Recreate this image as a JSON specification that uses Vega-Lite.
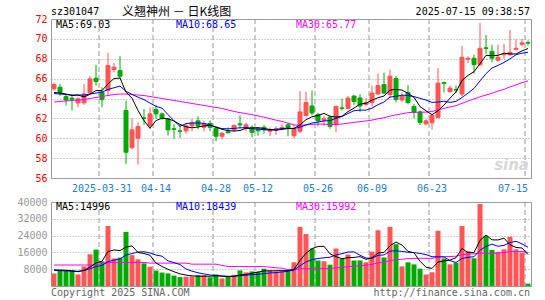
{
  "$schema": "https://vega.github.io/schema/vega-lite/v6.json",
  "background": "white",
  "padding": {"left": 16, "top": 5, "right": 15, "bottom": 2},
  "bounds": "flush",
  "spacing": 24,
  "config": {
    "font": "DejaVu Sans Mono",
    "view": {"stroke": "#999999", "strokeWidth": 1},
    "axis": {"labelFont": "DejaVu Sans Mono", "labelFontSize": 10, "ticks": false, "tickSize": 0, "domain": false, "gridColor": "#a0a0a0", "gridWidth": 1, "gridOpacity": 1, "labelOverlap": false, "labelBound": false}
  },
  "datasets": {
    "marks": [{"g":"2025-03-31"},{"g":"2025-04-14"},{"g":"2025-04-28"},{"g":"2025-05-12"},{"g":"2025-05-26"},{"g":"2025-06-09"},{"g":"2025-06-23"},{"g":"2025-07-15"}],
    "k": [
      {"d":"2025-03-19","o":64.97,"h":65.6,"l":64.8,"c":65.4,"v":6000,"m5":64.6,"m10":64.5,"m30":63.65,"vm5":7700,"vm10":7400,"vm30":10000},
      {"d":"2025-03-20","o":65.13,"h":65.45,"l":64.26,"c":64.6,"v":7500,"m5":64.55,"m10":64.45,"m30":63.7,"vm5":7600,"vm10":7300,"vm30":10000},
      {"d":"2025-03-21","o":64.19,"h":64.46,"l":63.29,"c":63.85,"v":7500,"m5":64.45,"m10":64.4,"m30":63.75,"vm5":7500,"vm10":7200,"vm30":10000},
      {"d":"2025-03-24","o":64.03,"h":64.23,"l":62.79,"c":63.93,"v":7500,"m5":64.3,"m10":64.35,"m30":63.8,"vm5":7200,"vm10":7100,"vm30":10000},
      {"d":"2025-03-25","o":63.56,"h":64.13,"l":63.12,"c":63.96,"v":5500,"m5":64.35,"m10":64.35,"m30":63.85,"vm5":6800,"vm10":7000,"vm30":10000},
      {"d":"2025-03-26","o":63.56,"h":65.47,"l":63.36,"c":64.46,"v":9350,"m5":64.16,"m10":64.35,"m30":63.9,"vm5":7470,"vm10":7400,"vm30":10000},
      {"d":"2025-03-27","o":64.56,"h":66.24,"l":64.5,"c":65.97,"v":15100,"m5":64.43,"m10":64.45,"m30":64.0,"vm5":8990,"vm10":8200,"vm30":10000},
      {"d":"2025-03-28","o":66.04,"h":67.38,"l":65.3,"c":65.7,"v":17350,"m5":64.8,"m10":64.55,"m30":64.1,"vm5":10960,"vm10":9300,"vm30":10000},
      {"d":"2025-03-31","o":64.63,"h":65.13,"l":63.12,"c":63.89,"v":11700,"m5":64.8,"m10":64.65,"m30":64.2,"vm5":11800,"vm10":9800,"vm30":10800},
      {"d":"2025-04-01","o":64.8,"h":68.59,"l":64.3,"c":67.32,"v":28550,"m5":65.47,"m10":64.91,"m30":64.3,"vm5":16410,"vm10":11605,"vm30":11100},
      {"d":"2025-04-02","o":66.91,"h":67.55,"l":66.64,"c":67.15,"v":13100,"m5":66.01,"m10":65.08,"m30":64.4,"vm5":17160,"vm10":12315,"vm30":11200},
      {"d":"2025-04-03","o":66.81,"h":68.26,"l":65.97,"c":66.24,"v":13500,"m5":66.06,"m10":65.25,"m30":64.45,"vm5":16840,"vm10":12915,"vm30":11200},
      {"d":"2025-04-07","o":62.79,"h":63.79,"l":57.42,"c":58.59,"v":25750,"m5":64.64,"m10":64.72,"m30":64.45,"vm5":18520,"vm10":14740,"vm30":11200},
      {"d":"2025-04-08","o":59.05,"h":62.0,"l":58.9,"c":60.85,"v":14700,"m5":64.03,"m10":64.41,"m30":64.4,"vm5":19120,"vm10":15460,"vm30":11200},
      {"d":"2025-04-09","o":60.0,"h":61.61,"l":57.35,"c":61.17,"v":12700,"m5":62.8,"m10":64.13,"m30":64.35,"vm5":15950,"vm10":16180,"vm30":11200},
      {"d":"2025-04-10","o":62.05,"h":62.95,"l":61.34,"c":62.0,"v":10800,"m5":61.77,"m10":63.89,"m30":64.3,"vm5":15490,"vm10":16325,"vm30":11200},
      {"d":"2025-04-11","o":61.28,"h":63.12,"l":60.94,"c":62.45,"v":9200,"m5":61.01,"m10":63.54,"m30":64.2,"vm5":14630,"vm10":15735,"vm30":10900},
      {"d":"2025-04-14","o":62.89,"h":63.36,"l":61.95,"c":62.45,"v":7350,"m5":61.78,"m10":63.21,"m30":64.1,"vm5":10950,"vm10":14735,"vm30":10900},
      {"d":"2025-04-15","o":62.45,"h":62.6,"l":61.85,"c":62.05,"v":6400,"m5":62.02,"m10":63.03,"m30":64.0,"vm5":9290,"vm10":14205,"vm30":10900},
      {"d":"2025-04-16","o":61.95,"h":62.0,"l":60.27,"c":60.84,"v":6000,"m5":61.96,"m10":62.38,"m30":63.9,"vm5":7950,"vm10":11950,"vm30":10900},
      {"d":"2025-04-17","o":60.95,"h":61.45,"l":59.95,"c":60.9,"v":4950,"m5":61.74,"m10":61.75,"m30":63.8,"vm5":6780,"vm10":11135,"vm30":10900},
      {"d":"2025-04-18","o":60.75,"h":61.35,"l":60.05,"c":60.7,"v":4250,"m5":61.39,"m10":61.2,"m30":63.7,"vm5":5790,"vm10":10210,"vm30":10900},
      {"d":"2025-04-21","o":60.75,"h":61.55,"l":60.45,"c":61.25,"v":4400,"m5":61.15,"m10":61.47,"m30":63.6,"vm5":5200,"vm10":8075,"vm30":10900},
      {"d":"2025-04-22","o":61.25,"h":61.95,"l":60.7,"c":61.55,"v":4550,"m5":61.05,"m10":61.54,"m30":63.5,"vm5":4830,"vm10":7060,"vm30":10400},
      {"d":"2025-04-23","o":61.75,"h":62.2,"l":60.9,"c":61.25,"v":5100,"m5":61.13,"m10":61.54,"m30":63.4,"vm5":4650,"vm10":6300,"vm30":10400},
      {"d":"2025-04-24","o":61.1,"h":61.78,"l":60.7,"c":61.45,"v":5100,"m5":61.24,"m10":61.49,"m30":63.3,"vm5":4680,"vm10":5730,"vm30":10400},
      {"d":"2025-04-25","o":61.5,"h":61.78,"l":60.7,"c":61.1,"v":4150,"m5":61.32,"m10":61.35,"m30":63.2,"vm5":4660,"vm10":5225,"vm30":10400},
      {"d":"2025-04-28","o":61.0,"h":61.2,"l":59.7,"c":60.2,"v":5500,"m5":61.11,"m10":61.13,"m30":63.1,"vm5":4880,"vm10":5040,"vm30":10400},
      {"d":"2025-04-29","o":60.2,"h":60.65,"l":59.9,"c":60.5,"v":3600,"m5":60.9,"m10":60.97,"m30":63.0,"vm5":4690,"vm10":4760,"vm30":9800},
      {"d":"2025-04-30","o":60.65,"h":61.1,"l":60.5,"c":60.55,"v":4300,"m5":60.76,"m10":60.95,"m30":62.85,"vm5":4530,"vm10":4590,"vm30":9300},
      {"d":"2025-05-06","o":60.85,"h":61.35,"l":60.65,"c":61.3,"v":5350,"m5":60.73,"m10":60.99,"m30":62.7,"vm5":4580,"vm10":4630,"vm30":9280},
      {"d":"2025-05-07","o":61.45,"h":62.3,"l":61.0,"c":61.35,"v":7450,"m5":60.78,"m10":61.05,"m30":62.58,"vm5":5240,"vm10":4950,"vm30":9278},
      {"d":"2025-05-08","o":61.0,"h":61.55,"l":60.75,"c":61.35,"v":6500,"m5":61.01,"m10":61.06,"m30":62.48,"vm5":5440,"vm10":5160,"vm30":9245},
      {"d":"2025-05-09","o":61.1,"h":61.3,"l":60.1,"c":60.6,"v":6950,"m5":61.03,"m10":60.97,"m30":62.37,"vm5":6110,"vm10":5400,"vm30":9227},
      {"d":"2025-05-12","o":60.95,"h":61.1,"l":60.25,"c":60.75,"v":6800,"m5":61.07,"m10":60.92,"m30":62.25,"vm5":6610,"vm10":5570,"vm30":9270},
      {"d":"2025-05-13","o":61.1,"h":61.35,"l":60.45,"c":60.85,"v":8250,"m5":60.98,"m10":60.86,"m30":62.12,"vm5":7190,"vm10":5885,"vm30":9233},
      {"d":"2025-05-14","o":60.7,"h":61.1,"l":60.2,"c":60.85,"v":7500,"m5":60.88,"m10":60.83,"m30":61.97,"vm5":7200,"vm10":6220,"vm30":8980},
      {"d":"2025-05-15","o":60.85,"h":61.2,"l":60.35,"c":60.95,"v":6950,"m5":60.8,"m10":60.91,"m30":61.82,"vm5":7290,"vm10":6365,"vm30":8633},
      {"d":"2025-05-16","o":61.0,"h":61.45,"l":60.8,"c":61.1,"v":7000,"m5":60.9,"m10":60.97,"m30":61.7,"vm5":7300,"vm10":6705,"vm30":8476},
      {"d":"2025-05-19","o":61.35,"h":61.55,"l":60.2,"c":61.1,"v":7000,"m5":60.97,"m10":61.02,"m30":61.52,"vm5":7340,"vm10":6975,"vm30":7758},
      {"d":"2025-05-20","o":60.25,"h":61.35,"l":60.0,"c":60.9,"v":11300,"m5":60.98,"m10":60.98,"m30":61.35,"vm5":7950,"vm10":7570,"vm30":7698},
      {"d":"2025-05-21","o":60.7,"h":64.75,"l":60.5,"c":62.65,"v":28150,"m5":61.34,"m10":61.11,"m30":61.28,"vm5":12080,"vm10":9640,"vm30":8186},
      {"d":"2025-05-22","o":62.3,"h":64.7,"l":62.1,"c":63.6,"v":24700,"m5":61.87,"m10":61.34,"m30":61.35,"vm5":15630,"vm10":11460,"vm30":8151},
      {"d":"2025-05-23","o":63.25,"h":64.8,"l":62.3,"c":62.55,"v":17850,"m5":62.16,"m10":61.53,"m30":61.4,"vm5":17800,"vm10":12550,"vm30":8256},
      {"d":"2025-05-26","o":62.4,"h":62.55,"l":61.2,"c":61.75,"v":12150,"m5":62.29,"m10":61.63,"m30":61.42,"vm5":18830,"vm10":13085,"vm30":8238},
      {"d":"2025-05-27","o":61.8,"h":62.25,"l":61.25,"c":61.95,"v":11750,"m5":62.5,"m10":61.74,"m30":61.42,"vm5":18920,"vm10":13435,"vm30":8270},
      {"d":"2025-05-28","o":62.1,"h":62.3,"l":60.95,"c":61.2,"v":10150,"m5":62.21,"m10":61.78,"m30":61.38,"vm5":15320,"vm10":13700,"vm30":8302},
      {"d":"2025-05-29","o":61.35,"h":63.3,"l":60.6,"c":63.2,"v":17850,"m5":62.13,"m10":62.0,"m30":61.4,"vm5":13950,"vm10":14790,"vm30":8652},
      {"d":"2025-05-30","o":63.05,"h":64.0,"l":62.8,"c":63.0,"v":12900,"m5":62.22,"m10":62.19,"m30":61.43,"vm5":12960,"vm10":15380,"vm30":8869},
      {"d":"2025-06-03","o":63.0,"h":64.25,"l":62.9,"c":64.05,"v":14950,"m5":62.68,"m10":62.49,"m30":61.52,"vm5":13520,"vm10":16175,"vm30":9167},
      {"d":"2025-06-04","o":64.25,"h":64.35,"l":63.35,"c":63.7,"v":12150,"m5":63.03,"m10":62.77,"m30":61.6,"vm5":13600,"vm10":16260,"vm30":9407},
      {"d":"2025-06-05","o":64.05,"h":64.45,"l":62.65,"c":63.25,"v":12150,"m5":63.44,"m10":62.83,"m30":61.67,"vm5":14000,"vm10":14660,"vm30":9670},
      {"d":"2025-06-06","o":63.4,"h":64.05,"l":63.25,"c":63.6,"v":11300,"m5":63.52,"m10":62.83,"m30":61.74,"vm5":12690,"vm10":13320,"vm30":9900},
      {"d":"2025-06-09","o":63.6,"h":65.3,"l":63.2,"c":64.55,"v":16400,"m5":63.83,"m10":63.03,"m30":61.83,"vm5":13390,"vm10":13175,"vm30":10295},
      {"d":"2025-06-10","o":64.45,"h":66.5,"l":64.4,"c":65.3,"v":26550,"m5":64.08,"m10":63.38,"m30":61.96,"vm5":15710,"vm10":14615,"vm30":11010},
      {"d":"2025-06-11","o":65.4,"h":66.6,"l":64.45,"c":64.55,"v":13600,"m5":64.25,"m10":63.64,"m30":62.06,"vm5":16000,"vm10":14800,"vm30":11293},
      {"d":"2025-06-12","o":64.4,"h":66.9,"l":64.05,"c":66.25,"v":28150,"m5":64.85,"m10":64.15,"m30":62.23,"vm5":19200,"vm10":16600,"vm30":12093},
      {"d":"2025-06-13","o":66.0,"h":66.25,"l":63.6,"c":63.9,"v":19900,"m5":64.91,"m10":64.22,"m30":62.35,"vm5":20920,"vm10":16805,"vm30":12573},
      {"d":"2025-06-16","o":63.85,"h":64.6,"l":63.65,"c":64.25,"v":9350,"m5":64.85,"m10":64.34,"m30":62.47,"vm5":19510,"vm10":16450,"vm30":12765},
      {"d":"2025-06-17","o":64.6,"h":65.35,"l":63.4,"c":63.6,"v":11300,"m5":64.51,"m10":64.3,"m30":62.57,"vm5":16460,"vm10":16085,"vm30":12998},
      {"d":"2025-06-18","o":63.2,"h":63.45,"l":62.0,"c":62.6,"v":10300,"m5":64.12,"m10":64.19,"m30":62.61,"vm5":15800,"vm10":15900,"vm30":13163},
      {"d":"2025-06-19","o":62.65,"h":62.8,"l":61.35,"c":61.6,"v":8250,"m5":63.19,"m10":64.02,"m30":62.62,"vm5":11820,"vm10":15510,"vm30":13190},
      {"d":"2025-06-20","o":61.45,"h":61.95,"l":61.3,"c":61.75,"v":5450,"m5":62.76,"m10":63.84,"m30":62.63,"vm5":8930,"vm10":14925,"vm30":13155},
      {"d":"2025-06-23","o":61.55,"h":62.45,"l":60.85,"c":62.3,"v":6550,"m5":62.37,"m10":63.61,"m30":62.69,"vm5":8370,"vm10":13940,"vm30":13142},
      {"d":"2025-06-24","o":62.1,"h":67.05,"l":62.0,"c":65.55,"v":26300,"m5":62.76,"m10":63.64,"m30":62.85,"vm5":11370,"vm10":13915,"vm30":13792},
      {"d":"2025-06-25","o":65.6,"h":65.7,"l":64.6,"c":65.5,"v":13100,"m5":63.34,"m10":63.73,"m30":63.01,"vm5":11930,"vm10":13865,"vm30":13954},
      {"d":"2025-06-26","o":64.7,"h":65.3,"l":64.55,"c":65.05,"v":10300,"m5":64.03,"m10":63.61,"m30":63.15,"vm5":12340,"vm10":12080,"vm30":14047},
      {"d":"2025-06-27","o":64.9,"h":65.3,"l":64.55,"c":64.85,"v":11100,"m5":64.65,"m10":63.71,"m30":63.28,"vm5":13470,"vm10":11200,"vm30":14185},
      {"d":"2025-06-30","o":64.45,"h":69.3,"l":64.25,"c":68.15,"v":28550,"m5":65.82,"m10":64.1,"m30":63.51,"vm5":17870,"vm10":13120,"vm30":14903},
      {"d":"2025-07-01","o":67.95,"h":68.25,"l":67.55,"c":68.05,"v":16600,"m5":66.32,"m10":64.54,"m30":63.74,"vm5":15930,"vm10":13650,"vm30":15223},
      {"d":"2025-07-02","o":68.05,"h":68.4,"l":66.5,"c":67.4,"v":13200,"m5":66.7,"m10":65.02,"m30":63.96,"vm5":15950,"vm10":13940,"vm30":15286},
      {"d":"2025-07-03","o":67.4,"h":71.6,"l":67.25,"c":69.05,"v":39000,"m5":67.5,"m10":65.77,"m30":64.17,"vm5":21690,"vm10":17015,"vm30":15648},
      {"d":"2025-07-04","o":69.1,"h":70.4,"l":68.5,"c":69.05,"v":23900,"m5":68.34,"m10":66.5,"m30":64.35,"vm5":24250,"vm10":18860,"vm30":15621},
      {"d":"2025-07-07","o":68.75,"h":69.4,"l":67.65,"c":68.05,"v":17200,"m5":68.32,"m10":67.07,"m30":64.53,"vm5":21980,"vm10":19925,"vm30":15599},
      {"d":"2025-07-08","o":67.85,"h":69.4,"l":67.75,"c":68.15,"v":16300,"m5":68.34,"m10":67.33,"m30":64.74,"vm5":21920,"vm10":18925,"vm30":15737},
      {"d":"2025-07-09","o":68.4,"h":69.5,"l":68.0,"c":68.5,"v":17450,"m5":68.56,"m10":67.63,"m30":64.92,"vm5":22770,"vm10":19360,"vm30":15927},
      {"d":"2025-07-10","o":68.4,"h":70.9,"l":68.3,"c":68.65,"v":23400,"m5":68.48,"m10":67.99,"m30":65.17,"vm5":19650,"vm10":20670,"vm30":16369},
      {"d":"2025-07-11","o":68.95,"h":69.95,"l":68.83,"c":69.05,"v":17450,"m5":68.48,"m10":68.41,"m30":65.37,"vm5":18360,"vm10":21305,"vm30":16356},
      {"d":"2025-07-14","o":69.45,"h":70.0,"l":69.25,"c":69.6,"v":15800,"m5":68.79,"m10":68.56,"m30":65.59,"vm5":18080,"vm10":20030,"vm30":16453},
      {"d":"2025-07-15","o":69.62,"h":69.85,"l":69.35,"c":69.58,"v":1120,"m5":69.03,"m10":68.65,"m30":65.77,"vm5":14996,"vm10":18439,"vm30":15992}
    ]
  },
  "vconcat": [
    {
      "width": 480,
      "height": 159,
      "encoding": {
        "x": {
          "field": "d", "type": "ordinal", "title": null,
          "scale": {"type": "band", "paddingInner": 0, "paddingOuter": 0},
          "axis": {
            "title": null,
            "values": ["2025-03-31","2025-04-14","2025-04-28","2025-05-12","2025-05-26","2025-06-09","2025-06-23","2025-07-15"],
            "bandPosition": 0,
            "labelExpr": "datum.value == '2025-03-31' ? datum.value : slice(datum.value, 5)",
            "labelColor": "#2080d0",
            "labelAngle": 0,
            "labelPadding": 5,
            "labelAlign": {"condition": {"test": "datum.value == '2025-07-15'", "value": "right"}, "value": "center"},
            "grid": false
          }
        }
      },
      "layer": [
        {
          "data": {"name": "marks"},
          "mark": {"type": "rule", "color": "#999999", "strokeWidth": 1, "strokeDash": [5, 3]},
          "encoding": {
            "x": {"field": "g", "type": "ordinal", "bandPosition": 0, "title": null}
          }
        },
        {
          "data": {"name": "k"},
          "mark": {"type": "rule", "strokeWidth": 1},
          "encoding": {
            "y": {"field": "l", "type": "quantitative", "title": null,
              "scale": {"domain": [56, 72], "nice": false, "zero": false},
              "axis": {"title": null, "values": [56,58,60,62,64,66,68,70,72], "tickCount": 20, "labelColor": "#ff0000", "labelPadding": 4, "labelOverlap": false, "grid": true, "gridDash": [1, 2]}},
            "y2": {"field": "h"},
            "color": {"condition": {"test": "datum.c >= datum.o", "value": "#ff5555"}, "value": "#00aa00"}
          }
        },
        {
          "data": {"name": "k"},
          "mark": {"type": "bar", "size": 4, "strokeWidth": 1},
          "encoding": {
            "y": {"field": "o", "type": "quantitative", "title": null, "scale": {"domain": [56, 72], "nice": false, "zero": false}},
            "y2": {"field": "c"},
            "color": {"condition": {"test": "datum.c >= datum.o", "value": "#ff5555"}, "value": "#00aa00"},
            "stroke": {"condition": {"test": "datum.c >= datum.o", "value": "#ff5555"}, "value": "#00aa00"}
          }
        },
        {
          "data": {"name": "k"},
          "mark": {"type": "line", "color": "#ff00ff", "strokeWidth": 1},
          "encoding": {"y": {"field": "m30", "type": "quantitative", "title": null, "scale": {"domain": [56, 72], "nice": false, "zero": false}}}
        },
        {
          "data": {"name": "k"},
          "mark": {"type": "line", "color": "#0000ff", "strokeWidth": 1},
          "encoding": {"y": {"field": "m10", "type": "quantitative", "title": null, "scale": {"domain": [56, 72], "nice": false, "zero": false}}}
        },
        {
          "data": {"name": "k"},
          "mark": {"type": "line", "color": "#000000", "strokeWidth": 1},
          "encoding": {"y": {"field": "m5", "type": "quantitative", "title": null, "scale": {"domain": [56, 72], "nice": false, "zero": false}}}
        },
        {
          "data": {"values": [{}]},
          "mark": {"type": "text", "text": "sina", "font": "DejaVu Sans", "fontSize": 15, "fontWeight": "bold", "fontStyle": "italic", "color": "#d8d8d8", "align": "right", "baseline": "bottom", "dx": -2, "dy": -5},
          "encoding": {
            "x": {"datum": "2025-07-15", "type": "ordinal", "bandPosition": 1},
            "y": {"datum": 56, "type": "quantitative"}
          }
        },
        {
          "data": {"values": [{}]},
          "mark": {"type": "text", "text": "MA5:69.03", "fontSize": 10, "color": "#000000", "align": "left", "baseline": "middle", "dx": 5, "dy": 6},
          "encoding": {
            "x": {"datum": "2025-03-19", "type": "ordinal", "bandPosition": 0},
            "y": {"datum": 72, "type": "quantitative"}
          }
        },
        {
          "data": {"values": [{}]},
          "mark": {"type": "text", "text": "MA10:68.65", "fontSize": 10, "color": "#0000ff", "align": "left", "baseline": "middle", "dx": 5, "dy": 6},
          "encoding": {
            "x": {"datum": "2025-04-17", "type": "ordinal", "bandPosition": 0},
            "y": {"datum": 72, "type": "quantitative"}
          }
        },
        {
          "data": {"values": [{}]},
          "mark": {"type": "text", "text": "MA30:65.77", "fontSize": 10, "color": "#ff00ff", "align": "left", "baseline": "middle", "dx": 5, "dy": 6},
          "encoding": {
            "x": {"datum": "2025-05-20", "type": "ordinal", "bandPosition": 0},
            "y": {"datum": 72, "type": "quantitative"}
          }
        },
        {
          "data": {"values": [{}]},
          "mark": {"type": "text", "text": "sz301047", "fontSize": 10, "color": "#000000", "align": "left", "baseline": "middle", "dy": -7},
          "encoding": {
            "x": {"datum": "2025-03-19", "type": "ordinal", "bandPosition": 0},
            "y": {"datum": 72, "type": "quantitative"}
          }
        },
        {
          "data": {"values": [{}]},
          "mark": {"type": "text", "text": "义翘神州 － 日K线图", "font": "Noto Sans CJK SC", "fontSize": 12, "color": "#000000", "align": "left", "baseline": "middle", "dx": -1, "dy": -7},
          "encoding": {
            "x": {"datum": "2025-04-07", "type": "ordinal", "bandPosition": 0},
            "y": {"datum": 72, "type": "quantitative"}
          }
        },
        {
          "data": {"values": [{}]},
          "mark": {"type": "text", "text": "2025-07-15 09:38:57", "fontSize": 10, "color": "#000000", "align": "right", "baseline": "middle", "dx": -1, "dy": -7},
          "encoding": {
            "x": {"datum": "2025-07-15", "type": "ordinal", "bandPosition": 1},
            "y": {"datum": 72, "type": "quantitative"}
          }
        }
      ]
    },
    {
      "width": 480,
      "height": 84,
      "encoding": {
        "x": {
          "field": "d", "type": "ordinal", "title": null,
          "scale": {"type": "band", "paddingInner": 0, "paddingOuter": 0},
          "axis": null
        }
      },
      "layer": [
        {
          "data": {"name": "marks"},
          "mark": {"type": "rule", "color": "#999999", "strokeWidth": 1, "strokeDash": [5, 3]},
          "encoding": {
            "x": {"field": "g", "type": "ordinal", "bandPosition": 0, "title": null}
          }
        },
        {
          "data": {"name": "k"},
          "mark": {"type": "bar", "size": 5},
          "encoding": {
            "y": {"field": "v", "type": "quantitative", "title": null,
              "scale": {"domain": [0, 40000], "nice": false},
              "axis": {"title": null, "values": [8000,16000,24000,32000,40000], "tickCount": 20, "format": "d", "labelColor": "#999999", "labelPadding": 4, "labelOverlap": false, "grid": true, "gridDash": [1, 2]}},
            "color": {"condition": {"test": "datum.c >= datum.o", "value": "#ff5555"}, "value": "#00aa00"}
          }
        },
        {
          "data": {"name": "k"},
          "mark": {"type": "line", "color": "#ff00ff", "strokeWidth": 1},
          "encoding": {"y": {"field": "vm30", "type": "quantitative", "title": null, "scale": {"domain": [0, 40000], "nice": false}}}
        },
        {
          "data": {"name": "k"},
          "mark": {"type": "line", "color": "#0000ff", "strokeWidth": 1},
          "encoding": {"y": {"field": "vm10", "type": "quantitative", "title": null, "scale": {"domain": [0, 40000], "nice": false}}}
        },
        {
          "data": {"name": "k"},
          "mark": {"type": "line", "color": "#000000", "strokeWidth": 1},
          "encoding": {"y": {"field": "vm5", "type": "quantitative", "title": null, "scale": {"domain": [0, 40000], "nice": false}}}
        },
        {
          "data": {"values": [{}]},
          "mark": {"type": "text", "text": "MA5:14996", "fontSize": 10, "color": "#000000", "align": "left", "baseline": "middle", "dx": 5, "dy": 5},
          "encoding": {
            "x": {"datum": "2025-03-19", "type": "ordinal", "bandPosition": 0},
            "y": {"datum": 40000, "type": "quantitative"}
          }
        },
        {
          "data": {"values": [{}]},
          "mark": {"type": "text", "text": "MA10:18439", "fontSize": 10, "color": "#0000ff", "align": "left", "baseline": "middle", "dx": 5, "dy": 5},
          "encoding": {
            "x": {"datum": "2025-04-17", "type": "ordinal", "bandPosition": 0},
            "y": {"datum": 40000, "type": "quantitative"}
          }
        },
        {
          "data": {"values": [{}]},
          "mark": {"type": "text", "text": "MA30:15992", "fontSize": 10, "color": "#ff00ff", "align": "left", "baseline": "middle", "dx": 5, "dy": 5},
          "encoding": {
            "x": {"datum": "2025-05-20", "type": "ordinal", "bandPosition": 0},
            "y": {"datum": 40000, "type": "quantitative"}
          }
        },
        {
          "data": {"values": [{}]},
          "mark": {"type": "text", "text": "Copyright 2025 SINA.COM", "fontSize": 10, "color": "#666666", "align": "left", "baseline": "middle", "dy": 7},
          "encoding": {
            "x": {"datum": "2025-03-19", "type": "ordinal", "bandPosition": 0},
            "y": {"datum": 0, "type": "quantitative"}
          }
        },
        {
          "data": {"values": [{}]},
          "mark": {"type": "text", "text": "http://finance.sina.com.cn", "fontSize": 10, "color": "#666666", "align": "right", "baseline": "middle", "dx": -1, "dy": 7},
          "encoding": {
            "x": {"datum": "2025-07-15", "type": "ordinal", "bandPosition": 1},
            "y": {"datum": 0, "type": "quantitative"}
          }
        }
      ]
    }
  ]
}
